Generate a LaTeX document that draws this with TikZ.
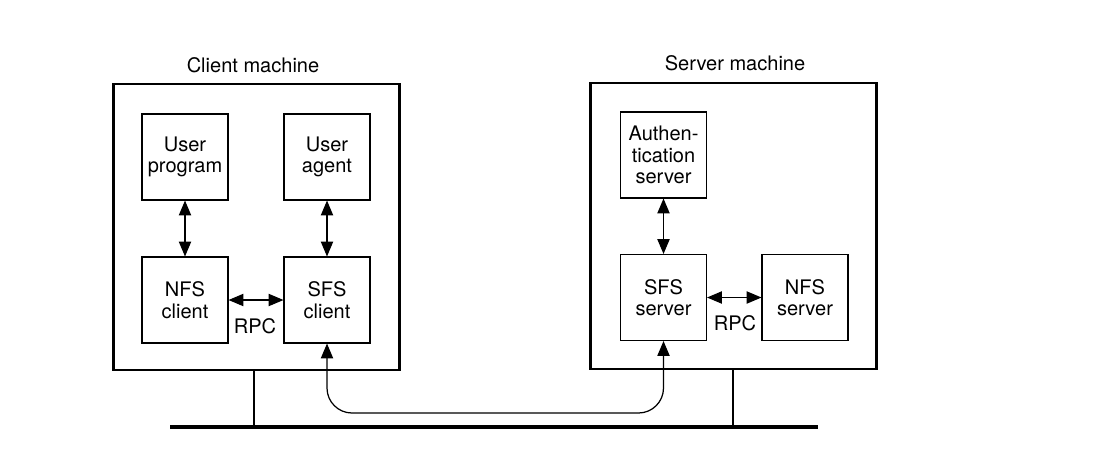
\documentclass[tikz,border=0pt]{standalone}
\usepackage{fontspec}
\setmainfont{TeX Gyre Heros}
\usetikzlibrary{arrows.meta}
\begin{document}
\begin{tikzpicture}[x=0.02cm,y=-0.02cm,
  font=\fontsize{11.4}{12.2}\selectfont,
  inbox/.style={draw, line width=0.6pt, minimum width=1.72cm, minimum height=1.72cm, align=center, inner sep=0pt},
  machine/.style={draw, line width=1.3pt, minimum width=5.72cm, minimum height=5.72cm, inner sep=0pt},
  arr/.style={line width=0.7pt, {Triangle[length=8.5pt,width=7pt]}-{Triangle[length=8.5pt,width=7pt]}},
  lbl/.style={inner sep=0pt}]
\useasboundingbox (0,0) rectangle (1114,457);
% machines
\node[machine] (client) at (256.5,227) {};
\node[machine] (server) at (733.5,226) {};
\node[lbl] (clab) at (253,65) {Client machine};
\node[lbl] (slab) at (735,63) {Server machine};
% client components
\node[inbox] (up) at (185,157) {User\\program};
\node[inbox] (ua) at (327,157) {User\\agent};
\node[inbox] (nfsc) at (185,300) {NFS\\client};
\node[inbox] (sfsc) at (327,300) {SFS\\client};
% server components
\node[inbox] (auth) at (663.5,155) {Authen-\\tication\\server};
\node[inbox] (sfss) at (663.5,297.5) {SFS\\server};
\node[inbox] (nfss) at (805,297.5) {NFS\\server};
% arrows
\draw[arr] (up.south) -- (nfsc.north);
\draw[arr] (ua.south) -- (sfsc.north);
\draw[arr] (nfsc.east) -- (sfsc.west);
\node[lbl] (rpc1) at (255,326) {RPC};
\draw[arr] (auth.south) -- (sfss.north);
\draw[arr] (sfss.east) -- (nfss.west);
\node[lbl] (rpc2) at (735,323) {RPC};
% network
\coordinate (busL) at (170,427);
\coordinate (busR) at (818,427);
\coordinate (cs) at (254,427);
\coordinate (ss) at (733,427);
\draw[line width=1.8pt] (busL) -- (busR);
\draw[line width=1.3pt] (client.south -| cs) -- (cs);
\draw[line width=1.3pt] (server.south -| ss) -- (ss);
% secure channel
\coordinate (ch) at (0,413);
\draw[arr, rounded corners=0.5cm] (sfsc.south) -- (sfsc.south |- ch) -- (sfss.south |- ch) -- (sfss.south);
\end{tikzpicture}
\end{document}
